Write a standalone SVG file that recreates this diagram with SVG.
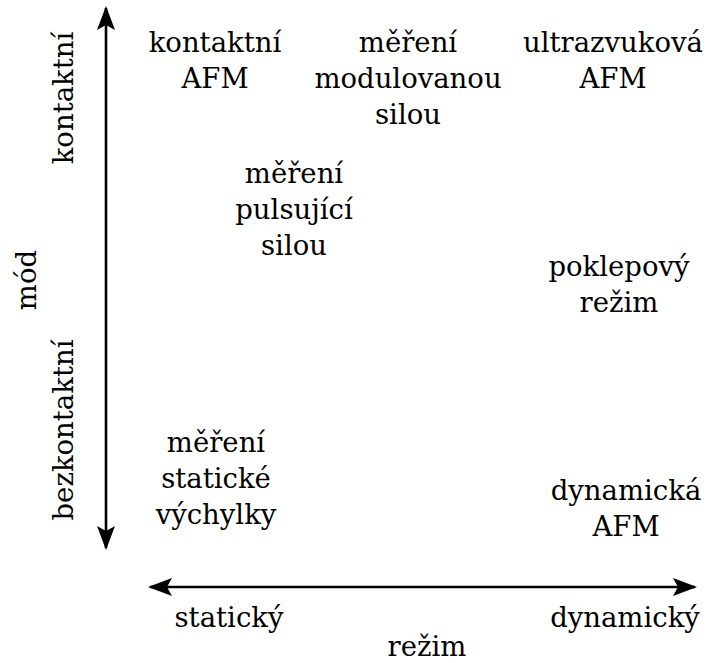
<svg xmlns="http://www.w3.org/2000/svg" width="706" height="663" viewBox="0 0 706 663">
<style>
text{font-family:"DejaVu Serif",serif;font-size:27.5px;fill:#000;text-anchor:middle}
.ax{stroke:#000;stroke-width:2.6;fill:none}
</style>
<defs>
<marker id="ah" viewBox="0 0 24 18" refX="22" refY="9" markerWidth="24" markerHeight="18" markerUnits="userSpaceOnUse" orient="auto-start-reverse">
<path d="M0,0 L24,9 L0,18 L5,9 Z" fill="#000"/>
</marker>
</defs>
<rect width="706" height="663" fill="#fff"/>
<g id="connectors">
<line class="ax" x1="106" y1="548" x2="106" y2="8" marker-start="url(#ah)" marker-end="url(#ah)"/>
<line class="ax" x1="150" y1="587" x2="695" y2="587" marker-start="url(#ah)" marker-end="url(#ah)"/>
</g>
<g id="axis-labels">
<text transform="translate(73,98) rotate(-90)">kontaktní</text>
<text transform="translate(73,430) rotate(-90)">bezkontaktní</text>
<text transform="translate(36,280) rotate(-90)">mód</text>
<text x="229" y="627">statický</text>
<text x="625" y="627">dynamický</text>
<text x="427" y="656">režim</text>
</g>
<g id="n1"><text x="215" y="52">kontaktní</text><text x="215" y="88">AFM</text></g>
<g id="n2"><text x="408" y="52">měření</text><text x="408" y="88">modulovanou</text><text x="408" y="124">silou</text></g>
<g id="n3"><text x="613" y="52">ultrazvuková</text><text x="613" y="88">AFM</text></g>
<g id="n4"><text x="294" y="183">měření</text><text x="294" y="219">pulsující</text><text x="294" y="255">silou</text></g>
<g id="n5"><text x="619" y="276">poklepový</text><text x="619" y="312">režim</text></g>
<g id="n6"><text x="216" y="452">měření</text><text x="216" y="488">statické</text><text x="216" y="524">výchylky</text></g>
<g id="n7"><text x="626" y="500">dynamická</text><text x="626" y="536">AFM</text></g>
</svg>
